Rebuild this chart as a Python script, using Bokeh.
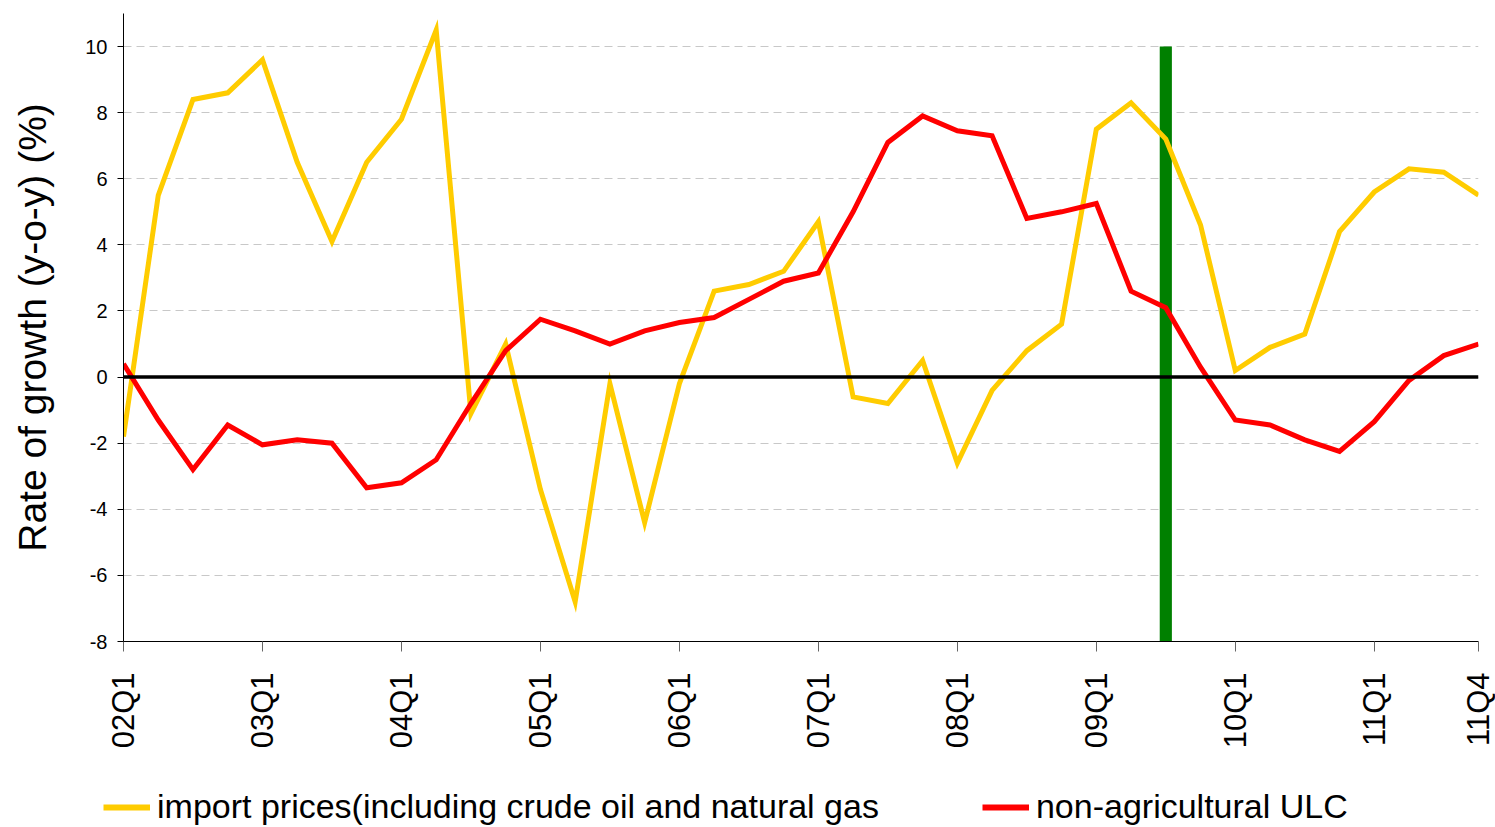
from bokeh.plotting import figure
from bokeh.layouts import column
from bokeh.models import (Range1d, FixedTicker, Span, Legend, LegendItem, ColumnDataSource)
from bokeh.embed import file_html
from bokeh.resources import INLINE
import math

# ---------------- data ----------------
quarters = ["02Q1", "02Q2", "02Q3", "02Q4",
            "03Q1", "03Q2", "03Q3", "03Q4",
            "04Q1", "04Q2", "04Q3", "04Q4",
            "05Q1", "05Q2", "05Q3", "05Q4",
            "06Q1", "06Q2", "06Q3", "06Q4",
            "07Q1", "07Q2", "07Q3", "07Q4",
            "08Q1", "08Q2", "08Q3", "08Q4",
            "09Q1", "09Q2", "09Q3", "09Q4",
            "10Q1", "10Q2", "10Q3", "10Q4",
            "11Q1", "11Q2", "11Q3", "11Q4"]

import_prices = [-1.8, 5.5, 8.4, 8.6,
                 9.6, 6.5, 4.1, 6.5,
                 7.8, 10.5, -1.1, 1.0,
                 -3.4, -6.8, -0.2, -4.4,
                 -0.2, 2.6, 2.8, 3.2,
                 4.7, -0.6, -0.8, 0.5,
                 -2.6, -0.4, 0.8, 1.6,
                 7.5, 8.3, 7.2, 4.6,
                 0.2, 0.9, 1.3, 4.4,
                 5.6, 6.3, 6.2, 5.5]

non_agri_ulc = [0.4, -1.3, -2.8, -1.45,
                -2.05, -1.9, -2.0, -3.35,
                -3.2, -2.5, -0.8, 0.8,
                1.75, 1.4, 1.0, 1.4,
                1.65, 1.8, 2.35, 2.9,
                3.15, 5.0, 7.1, 7.9,
                7.45, 7.3, 4.8, 5.0,
                5.25, 2.6, 2.1, 0.3,
                -1.3, -1.45, -1.9, -2.25,
                -1.35, -0.1, 0.65, 1.0]

x_tick_labels = ["02Q1", "03Q1", "04Q1", "05Q1", "06Q1", "07Q1",
                 "08Q1", "09Q1", "10Q1", "11Q1", "11Q4"]
y_tick_values = [-8, -6, -4, -2, 0, 2, 4, 6, 8, 10]
y_tick_labels = ["-8", "-6", "-4", "-2", "0", "2", "4", "6", "8", "10"]

marker_quarter = "09Q3"
marker_bottom = -8
marker_top = 10

series_names = ["import prices(including crude oil and natural gas",
                "non-agricultural ULC"]
series_colors = ["#FFCC00", "#FF0000"]
y_axis_title = "Rate of growth (y-o-y) (%)"

FONT = "Liberation Sans"

# ---------------- main figure ----------------
x = list(range(len(quarters)))
src = ColumnDataSource(dict(x=x, imp=import_prices, ulc=non_agri_ulc))

p = figure(frame_width=1355, frame_height=628, output_backend="svg",
           toolbar_location=None,
           x_range=Range1d(0, len(quarters) - 1), y_range=Range1d(-8, 11),
           min_border_left=123, min_border_right=17, min_border_top=13,
           min_border_bottom=129)
p.outline_line_color = None
p.background_fill_color = "white"
p.border_fill_color = "white"
p.frame_align = False

xticks = [quarters.index(q) for q in x_tick_labels]
p.xaxis.ticker = FixedTicker(ticks=xticks)
p.xaxis.major_label_overrides = {t: l for t, l in zip(xticks, x_tick_labels)}
p.xaxis.major_label_orientation = math.pi / 2
p.xaxis.major_label_text_font = FONT
p.xaxis.major_label_text_font_size = "31px"
p.xaxis.major_label_text_color = "black"
p.xaxis.major_label_standoff = 21
p.xaxis.major_tick_out = 10
p.xaxis.major_tick_in = 0
p.xaxis.minor_tick_line_color = None
p.xaxis.axis_line_color = "black"
p.xaxis.major_tick_line_color = "#666666"

p.yaxis.ticker = FixedTicker(ticks=y_tick_values)
p.yaxis.major_label_overrides = {v: l for v, l in zip(y_tick_values, y_tick_labels)}
p.yaxis.major_label_text_font = FONT
p.yaxis.major_label_text_font_size = "20px"
p.yaxis.major_label_text_color = "black"
p.yaxis.major_label_standoff = 10
p.yaxis.major_tick_out = 6
p.yaxis.major_tick_in = 0
p.yaxis.minor_tick_line_color = None
p.yaxis.axis_line_color = "black"
p.yaxis.major_tick_line_color = "black"
p.yaxis.axis_label = y_axis_title
p.yaxis.axis_label_text_font = FONT
p.yaxis.axis_label_text_font_size = "39px"
p.yaxis.axis_label_text_font_style = "normal"
p.yaxis.axis_label_text_color = "black"
p.yaxis.axis_label_standoff = 28

p.xgrid.grid_line_color = None
p.ygrid.grid_line_color = "#C8C8C8"
p.ygrid.grid_line_dash = "8 5"
p.ygrid.grid_line_width = 1

mx = quarters.index(marker_quarter)
p.vbar(x=[mx], bottom=[marker_bottom], top=[marker_top], width=0.35,
       fill_color="#008000", line_color=None)

p.add_layout(Span(location=0, dimension="width", line_color="black", line_width=3.5))

r1 = p.line("x", "imp", source=src, line_color=series_colors[0], line_width=5, line_join="miter")
r2 = p.line("x", "ulc", source=src, line_color=series_colors[1], line_width=5, line_join="miter")

# ---------------- legend strip ----------------
lg = figure(width=1495, height=57, output_backend="svg", toolbar_location=None,
            x_range=Range1d(0, 1), y_range=Range1d(0, 1),
            min_border=0, x_axis_type=None, y_axis_type=None)
lg.outline_line_color = None
lg.grid.visible = False
lg.border_fill_color = "white"
lg.frame_align = False
dummy = ColumnDataSource(dict(x=[float("nan")], y=[float("nan")]))
d1 = lg.line("x", "y", source=dummy, line_color=series_colors[0], line_width=6)
d2 = lg.line("x", "y", source=dummy, line_color=series_colors[1], line_width=6)

legend = Legend(items=[LegendItem(label=series_names[0], renderers=[d1]),
                       LegendItem(label=series_names[1], renderers=[d2])],
                orientation="horizontal", location=(103, 1),
                label_text_font=FONT, label_text_font_size="34px",
                label_text_color="black",
                glyph_width=47, glyph_height=20, label_standoff=7, spacing=103,
                padding=0, margin=0, border_line_color=None,
                background_fill_alpha=0)
lg.add_layout(legend, "center")

layout = column(p, lg, spacing=0)
open("out.html", "w").write(file_html(layout, INLINE))
